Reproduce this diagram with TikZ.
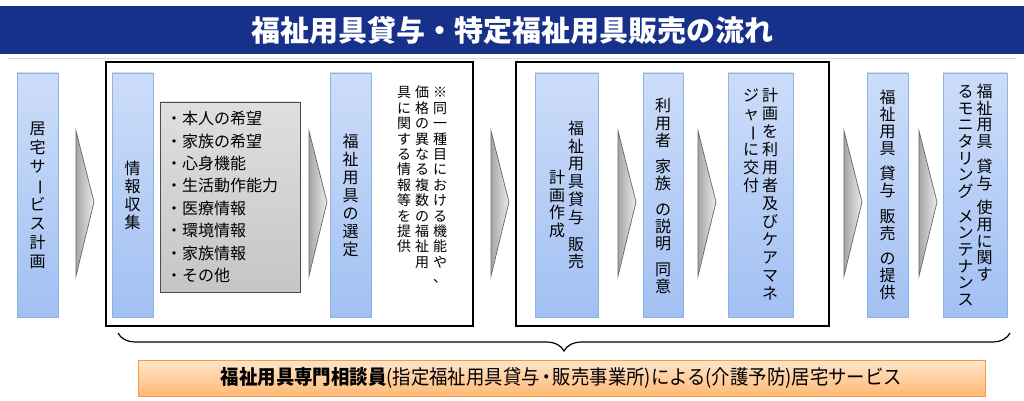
\documentclass[tikz,border=0pt]{standalone}
\usepackage{fontspec}
\usepackage{graphicx}
\setmainfont{Noto Sans CJK JP}
\usetikzlibrary{decorations.pathreplacing}
\newdimen\vpitch \vpitch=18pt
\def\vt#1{\vtop{\baselineskip=\vpitch\lineskiplimit=-100pt\lineskip=0pt\vtl#1\relax}}
\def\vtl#1{\ifx#1\relax\else\vtc{#1}\expandafter\vtl\fi}
\def\vtc#1{\ifx#1~\kern0.5\vpitch\else\ifx#1ー\hbox to 1em{\hss\rotatebox[origin=c]{-90}{ー}\hss}\else\hbox to 1em{\hss#1\hss}\fi\fi}
\definecolor{navy}{HTML}{17318A}
\definecolor{bxtop}{HTML}{CCDDF9}
\definecolor{bxbot}{HTML}{A2C0F3}
\definecolor{bxdraw}{HTML}{8DB3E2}
\begin{document}
\begin{tikzpicture}[x=1pt,y=-1pt,
  bx/.style={draw=bxdraw,top color=bxtop,bottom color=bxbot,line width=0.8pt},
  frame/.style={draw=black,line width=1.3pt},
  chev/.style={draw=gray!80!black,left color=gray!70,right color=gray!15,line width=0.7pt},
  vtxt/.style={inner sep=0pt,font=\fontsize{16}{18}\selectfont},
]
\useasboundingbox (0,0) rectangle (1024,401);
% title
\fill[navy] (0,6) rectangle (1024,54);
\draw[gray!30] (8,58) -- (1016,58);
\node[text=white,font=\fontsize{29}{30}\bfseries\selectfont] (title) at (512,30) {福祉用具貸与・特定福祉用具販売の流れ};
% frames
\draw[frame] (106,62) rectangle (473,326);
\draw[frame] (516,62) rectangle (829,326);
% boxes
\draw[bx] (17,73) rectangle (58,317);
\node[vtxt] (b1) at (37.5,195) {\vpitch=19pt\vt{居宅サービス計画}};
\draw[bx] (112,73) rectangle (153,317);
\node[vtxt] (b2) at (132.5,195) {\vt{情報収集}};
\draw[draw=gray!60!black,top color=gray!25,bottom color=gray!45,line width=0.8pt] (160,102) rectangle (300,292);
\node[inner sep=0pt,anchor=north west,align=left,font=\fontsize{16}{22.4}\selectfont] (list) at (166,111)
 {・本人の希望\\・家族の希望\\・心身機能\\・生活動作能力\\・医療情報\\・環境情報\\・家族情報\\・その他};
\draw[bx] (330,73) rectangle (371,317);
\node[vtxt] (b3) at (350.5,195) {\vt{福祉用具の選定}};
\node[inner sep=0pt,anchor=north,font=\fontsize{14}{15}\selectfont] (note) at (422,86)
 {\vpitch=15.4pt\vt{具に関する情報等を提供}\hspace{4pt}\vt{価格の異なる複数の福祉用}\hspace{4pt}\vt{※同一種目における機能や、}};
\draw[bx] (535,73) rectangle (598,317);
\node[vtxt] (b4) at (566.5,195) {\vpitch=17.8pt\vt{~~~~計画作成}\hspace{3pt}\vt{福祉用具貸与~販売}};
\draw[bx] (643,73) rectangle (683,317);
\node[vtxt] (b5) at (663,196) {\vpitch=17.2pt\vt{利用者~家族~の説明~同意}};
\draw[bx] (728,73) rectangle (793,317);
\node[vtxt] (b6) at (760.5,194) {\vpitch=18pt\vt{ジャーに交付}\hspace{3pt}\vt{計画を利用者及びケアマネ}};
\draw[bx] (867,73) rectangle (908,317);
\node[vtxt] (b7) at (887.5,195) {\vpitch=17pt\vt{福祉用具~貸与~販売~の提供}};
\draw[bx] (943,73) rectangle (1007,317);
\node[vtxt] (b8) at (975,195) {\vpitch=16.6pt\vt{るモニタリング~メンテナンス}\hspace{3pt}\vt{福祉用具~貸与~使用に関す}};
% chevrons
\foreach \x in {76,309,491,618,698,844,919}
  \draw[chev] (\x,131) -- (\x+18,202) -- (\x,276) -- cycle;
% brace
\coordinate (br1) at (1010,333);
\coordinate (br2) at (118,333);
\draw[line width=1.2pt,decorate,decoration={brace,amplitude=18pt,aspect=0.5}] (br1) -- (br2);
% bottom box
\node[draw=orange!80!red!70,top color=orange!20,bottom color=orange!55,line width=0.8pt,minimum width=847pt,minimum height=36pt,inner sep=0pt] (svc) at (561.5,378)
 {\fontsize{20}{22}\selectfont\scalebox{0.92}[1]{\textbf{福祉用具専門相談員}(指定福祉用具貸与\kern-3pt・\kern-3pt販売事業所)による(介護予防)居宅サービス}};
\end{tikzpicture}
\end{document}
